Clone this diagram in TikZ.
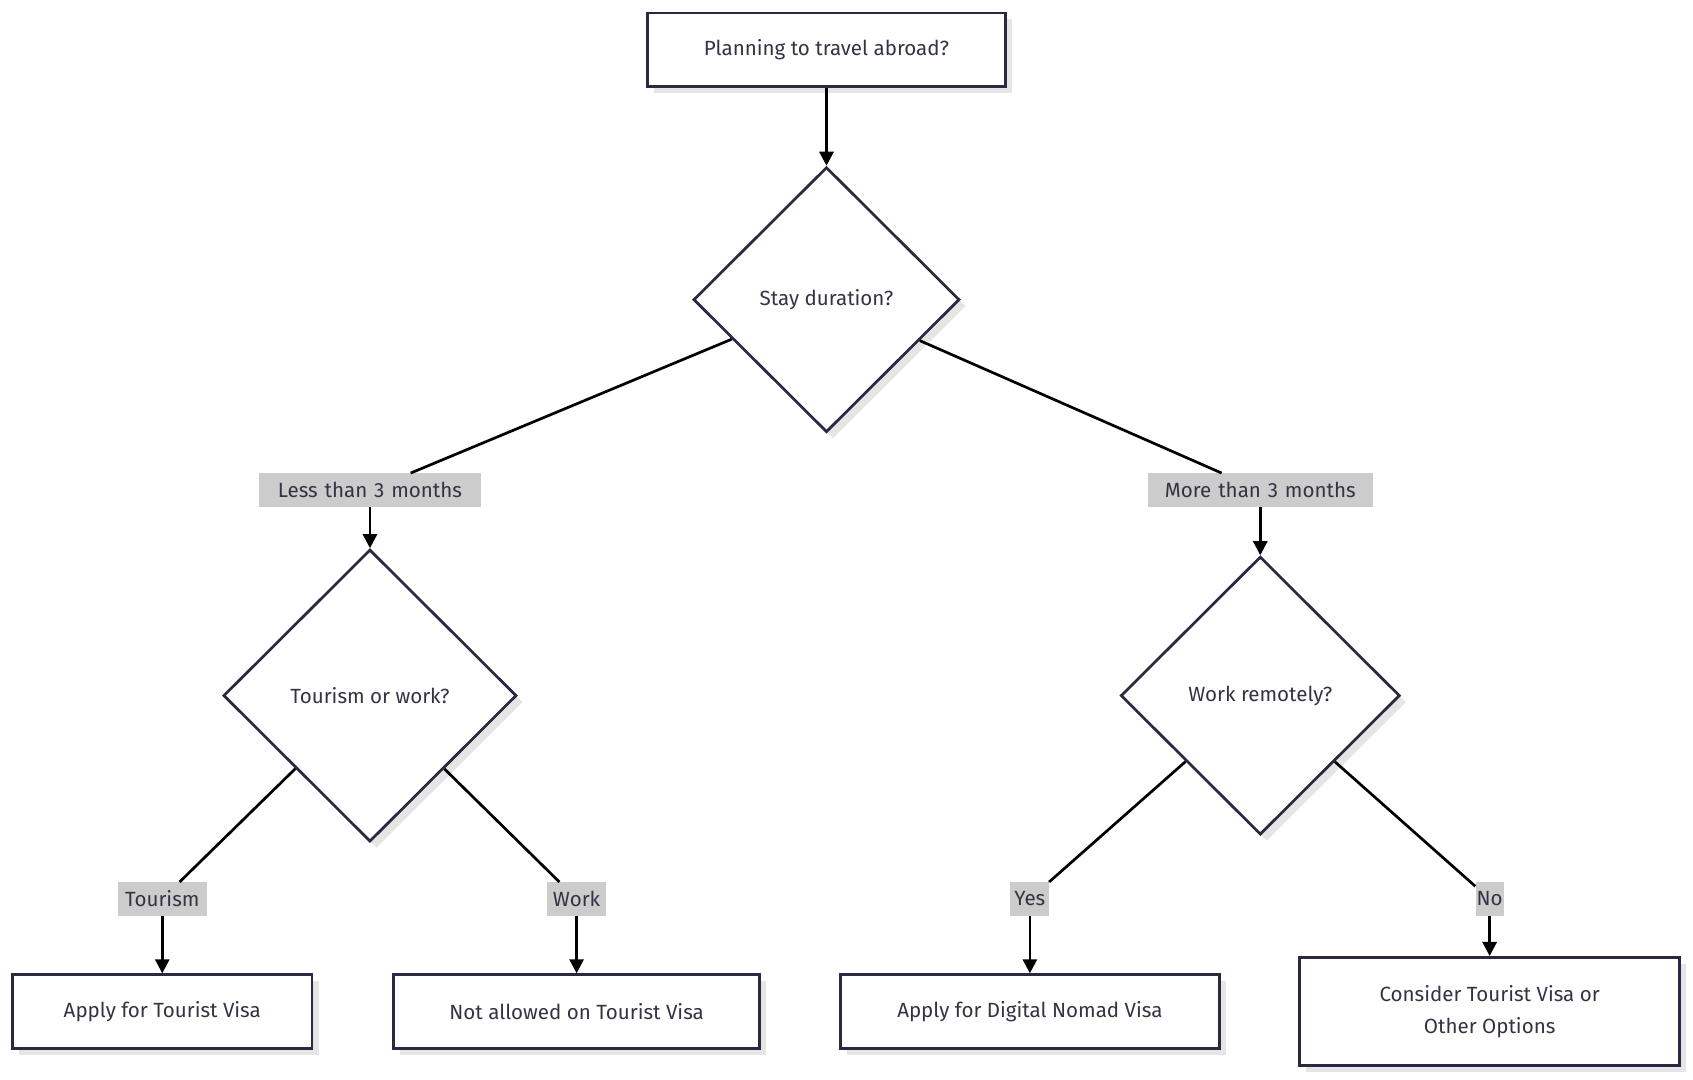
\documentclass[tikz,border=0pt]{standalone}
\usepackage{fontspec}
\setmainfont{Fira Sans}
\usetikzlibrary{shapes.geometric,arrows.meta,shadows}
\definecolor{edgec}{HTML}{2B2840}
\definecolor{txt}{HTML}{333344}
\definecolor{lbl}{HTML}{CCCCCC}
\begin{document}
\begin{tikzpicture}[x=1pt,y=-1pt,
  font=\fontsize{19}{30}\selectfont, text=txt,
  sh/.style={drop shadow={shadow xshift=6pt,shadow yshift=-6pt,fill=black!10,opacity=1}},
  box/.style={draw=edgec,line width=2.5pt,fill=white,sh,inner sep=0pt,align=center},
  dia/.style={diamond,draw=edgec,line width=2.5pt,fill=white,sh,inner sep=0pt},
  lab/.style={fill=lbl,inner sep=0pt,minimum height=31pt,text=txt},
  ln/.style={line width=2.5pt,black},
  ar/.style={line width=2.5pt,black,-{Triangle[length=13pt,width=13pt]}}]
\useasboundingbox (0,0) rectangle (1565,998);
\node[box,minimum width=331pt,minimum height=68pt] (start) at (764,46) {Planning to travel abroad?};
\node[dia,minimum width=246pt,minimum height=245pt] (d1) at (764,277) {Stay duration?};
\node[lab,text width=205pt,align=center] (l1) at (342,453) {Less than 3 months};
\node[lab,text width=208pt,align=center] (l2) at (1165,453) {More than 3 months};
\node[dia,minimum width=271pt,minimum height=270pt] (d2) at (342,643) {Tourism or work?};
\node[dia,minimum width=258pt,minimum height=257pt] (d3) at (1165,643) {Work remotely?};
\node[lab,text width=82pt,align=center] (t) at (150,831) {Tourism};
\node[lab,text width=54pt,align=center] (w) at (533,831) {Work};
\node[lab,text width=36pt,align=center] (y) at (952,831) {Yes};
\node[lab,text width=26pt,align=center] (n) at (1377,831) {No};
\node[box,minimum width=277pt,minimum height=68pt] (b1) at (150,935) {Apply for Tourist Visa};
\node[box,minimum width=338pt,minimum height=68pt] (b2) at (533,935) {Not allowed on Tourist Visa};
\node[box,minimum width=350pt,minimum height=68pt] (b3) at (952,935) {Apply for Digital Nomad Visa};
\node[box,minimum width=351pt,minimum height=100pt] (b4) at (1377,935) {Consider Tourist Visa or\\Other Options};
\draw[ar] (start) -- (d1);
\draw[ln] (d1) -- (l1); \draw[ar] (l1) -- (d2);
\draw[ln] (d1) -- (l2); \draw[ar] (l2) -- (d3);
\draw[ln] (d2) -- (t); \draw[ar] (t) -- (b1);
\draw[ln] (d2) -- (w); \draw[ar] (w) -- (b2);
\draw[ln] (d3) -- (y); \draw[ar] (y) -- (b3);
\draw[ln] (d3) -- (n); \draw[ar] (n) -- (b4);
\end{tikzpicture}
\end{document}
